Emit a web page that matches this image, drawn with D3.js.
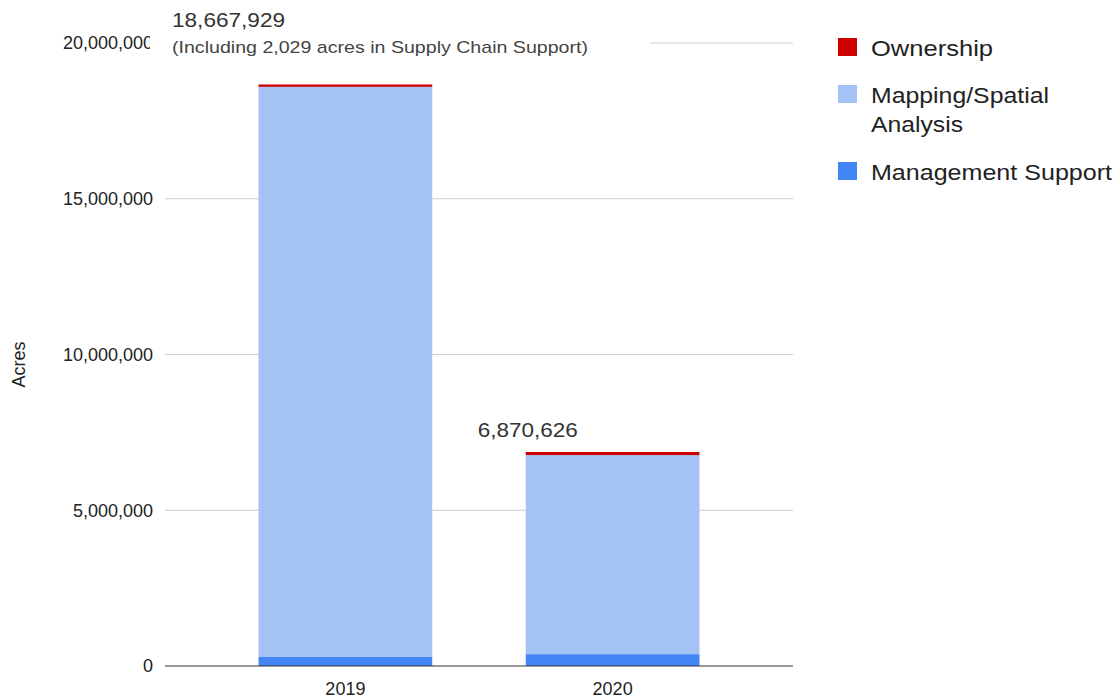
<!DOCTYPE html>
<html>
<head>
<meta charset="utf-8">
<script src="https://cdn.jsdelivr.net/npm/d3@7"></script>
<style>
  html, body { margin: 0; padding: 0; background: #fff; }
  svg { display: block; font-family: "Liberation Sans", Arial, sans-serif; }
</style>
</head>
<body>
<svg id="chart" width="1117" height="698"></svg>
<script>
// Acres by project type, stacked per year
const years = ["2019", "2020"];
const seriesNames = ["Management Support", "Mapping/Spatial Analysis", "Ownership"];
const managementSupport = [290000, 380000];
const mappingSpatial = [18302929, 6390626];
const ownership = [75000, 100000];
const totals = [18667929, 6870626];
const yTicks = [0, 5000000, 10000000, 15000000, 20000000];
const colors = ["#4285f4", "#a4c2f4", "#cc0000"];

const svg = d3.select("#chart");
const plot = { left: 165, right: 793, top: 43, bottom: 666 };

const x = d3.scaleBand().domain(years).range([plot.left, plot.right]).padding(0.35);
const y = d3.scaleLinear().domain([0, 20000000]).range([plot.bottom, plot.top]);

const rows = years.map((yr, i) => ({
  year: yr,
  "Management Support": managementSupport[i],
  "Mapping/Spatial Analysis": mappingSpatial[i],
  "Ownership": ownership[i]
}));
const stacked = d3.stack().keys(seriesNames)(rows);

// gridlines
svg.append("g")
  .selectAll("line")
  .data(yTicks.filter(t => t > 0))
  .join("line")
  .attr("x1", plot.left).attr("x2", plot.right)
  .attr("y1", d => y(d)).attr("y2", d => y(d))
  .attr("stroke", "#cccccc").attr("stroke-width", 1);

// y axis labels
const yAxis = svg.append("g")
  .attr("transform", `translate(${plot.left - 12},0)`)
  .call(d3.axisLeft(y).tickValues(yTicks).tickFormat(d3.format(",")).tickSize(0).tickPadding(0));
yAxis.select(".domain").remove();
yAxis.selectAll("text")
  .attr("font-size", 18).attr("fill", "#222")
  .attr("font-family", "'Liberation Sans', Arial, sans-serif");

// y axis title
svg.append("text")
  .attr("transform", `translate(25, ${(plot.top + plot.bottom) / 2 + 10}) rotate(-90)`)
  .attr("text-anchor", "middle")
  .attr("font-size", 18).attr("fill", "#222")
  .text("Acres");

// bars
svg.append("g")
  .selectAll("g")
  .data(stacked)
  .join("g")
  .attr("fill", (d, i) => colors[i])
  .selectAll("rect")
  .data(d => d)
  .join("rect")
  .attr("x", d => x(d.data.year))
  .attr("width", x.bandwidth())
  .attr("y", d => y(d[1]))
  .attr("height", d => y(d[0]) - y(d[1]));

// baseline
svg.append("line")
  .attr("x1", plot.left).attr("x2", plot.right)
  .attr("y1", y(0)).attr("y2", y(0))
  .attr("stroke", "#333").attr("stroke-width", 1);

// x axis labels
const xAxis = svg.append("g")
  .attr("transform", `translate(0,${plot.bottom})`)
  .call(d3.axisBottom(x).tickSize(0).tickPadding(16));
xAxis.select(".domain").remove();
xAxis.selectAll("text")
  .attr("font-size", 18).attr("fill", "#222")
  .attr("font-family", "'Liberation Sans', Arial, sans-serif");

// total annotations
const ann = svg.append("g");
ann.append("rect")
  .attr("x", 150).attr("y", 4).attr("width", 500).attr("height", 60)
  .attr("fill", "#fff");
ann.append("text")
  .attr("x", 172).attr("y", 27)
  .attr("font-size", 20).attr("fill", "#333")
  .attr("textLength", 113).attr("lengthAdjust", "spacingAndGlyphs")
  .text(d3.format(",")(totals[0]));
ann.append("text")
  .attr("x", 172).attr("y", 53)
  .attr("font-size", 17).attr("fill", "#444")
  .attr("textLength", 416).attr("lengthAdjust", "spacingAndGlyphs")
  .text("(Including 2,029 acres in Supply Chain Support)");
ann.append("text")
  .attr("x", x(years[1]) - 48).attr("y", y(totals[1]) - 15)
  .attr("font-size", 20).attr("fill", "#333")
  .attr("textLength", 100).attr("lengthAdjust", "spacingAndGlyphs")
  .text(d3.format(",")(totals[1]));

// legend
const legendItems = [
  { name: ["Ownership"], widths: [122], color: colors[2], y: 38 },
  { name: ["Mapping/Spatial", "Analysis"], widths: [178, 92], color: colors[1], y: 85 },
  { name: ["Management Support"], widths: [241], color: colors[0], y: 162 }
];
const lg = svg.append("g");
legendItems.forEach(item => {
  lg.append("rect")
    .attr("x", 838).attr("y", item.y).attr("width", 19).attr("height", 18)
    .attr("fill", item.color);
  item.name.forEach((line, i) => {
    lg.append("text")
      .attr("x", 871).attr("y", item.y + 18 + i * 29)
      .attr("font-size", 22).attr("fill", "#222")
      .attr("textLength", item.widths[i]).attr("lengthAdjust", "spacingAndGlyphs")
      .text(line);
  });
});
</script>
</body>
</html>
